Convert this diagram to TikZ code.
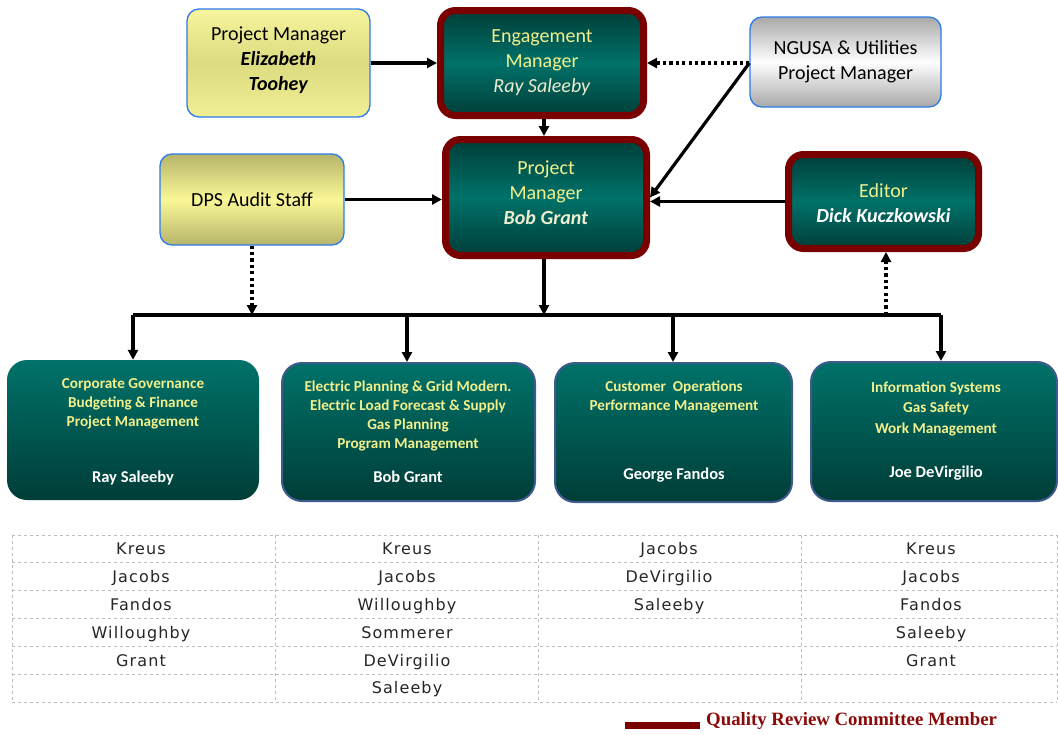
\documentclass[tikz,border=0pt]{standalone}
\usepackage{fontspec}
\setmainfont{Carlito}
\newfontfamily\tabfont[LetterSpace=7]{DejaVu Sans}
\newfontfamily\legfont{Liberation Serif}
\usetikzlibrary{arrows.meta}
\definecolor{qred}{HTML}{7A0000}
\definecolor{tealD}{HTML}{003D38}
\definecolor{tealL}{HTML}{007269}
\definecolor{ylt}{HTML}{F2F08C}
\definecolor{ylight}{HTML}{EDEDCF}
\definecolor{bord}{HTML}{2C7BEA}
\definecolor{navy}{HTML}{3F5A8C}
\definecolor{tabline}{HTML}{BDBDBD}
\definecolor{legred}{HTML}{8A0A0A}
\definecolor{yA}{HTML}{F7F59D}
\definecolor{yB}{HTML}{F1EF93}
\definecolor{yC}{HTML}{DDDB80}
\definecolor{yD}{HTML}{B7B56B}
\definecolor{yE}{HTML}{F9F796}
\definecolor{gA}{HTML}{A8A8A8}
\tikzset{
  yelbox/.style={draw=bord, line width=1.3pt, rounded corners=12pt, align=center,
    font=\fontsize{20}{25}\selectfont, text=black},
  qrbox/.style={draw=qred, line width=7pt, rounded corners=15pt, align=center,
    top color=tealD, bottom color=tealD, middle color=tealL,
    font=\fontsize{20}{25}\selectfont, text=ylt},
  deptbox/.style={rounded corners=20pt, top color=tealL, bottom color=tealD},
  deptbord/.style={deptbox, draw=navy, line width=2pt},
  head/.style={font=\bfseries\fontsize{15.2}{19}\selectfont, text=ylt, align=center},
  who/.style={font=\bfseries\fontsize{16.5}{19}\selectfont, text=white},
  arr/.style={-{Triangle[length=10pt,width=10pt]}, line width=3.2pt},
  dotarr/.style={arr, dash pattern=on 3.2pt off 3.2pt},
  ln/.style={line width=3.2pt},
  tab/.style={tabline, dashed, line width=0.7pt},
  cell/.style={font=\tabfont\fontsize{16}{18}\selectfont, text=black!85, anchor=base},
}
\begin{document}
\begin{tikzpicture}[x=1pt,y=-1pt]
\useasboundingbox (0,0) rectangle (1058,734);
% top row
\node[yelbox, minimum width=183, minimum height=108,
  top color=yA, bottom color=yB, middle color=yC] (pmE) at (278.5,63) {};
\node[align=center, font=\fontsize{20}{25}\selectfont] (pmEt) at (278.5,60)
  {Project Manager\\ \textbf{\textit{Elizabeth}}\\ \textbf{\textit{Toohey}}};
\node[qrbox, minimum width=203, minimum height=105] (eng) at (542,63) {};
\node[align=center, font=\fontsize{20}{25}\selectfont, text=ylt] (engt) at (542,63)
  {Engagement\\ Manager\\ \textcolor{ylight}{\textit{Ray Saleeby}}};
\node[yelbox, minimum width=191, minimum height=90,
  top color=gA, bottom color=gA, middle color=white] (ngusa) at (845.5,62)
  {NGUSA \& Utilities\\ Project Manager};
% second row
\node[yelbox, minimum width=184, minimum height=91,
  top color=yD, bottom color=yD, middle color=yE] (dps) at (252,199.5)
  {DPS Audit Staff};
\node[qrbox, minimum width=201, minimum height=116] (pmB) at (546,197.5) {};
\node[align=center, font=\fontsize{20}{25}\selectfont, text=ylt] (pmBt) at (546,193)
  {Project\\ Manager\\ \textcolor{ylight}{\textbf{\textit{Bob Grant}}}};
\node[qrbox, minimum width=190, minimum height=94] (ed) at (883.5,201.5) {};
\node[align=center, font=\fontsize{20}{25}\selectfont, text=ylt] (edt) at (883.5,203.5)
  {Editor\\ \textcolor{white}{\textbf{\textit{Dick Kuczkowski}}}};
% department boxes
\node[deptbox, minimum width=252, minimum height=140] (d1) at (133,430) {};
\node[deptbord, minimum width=253, minimum height=138] (d2) at (408.5,432) {};
\node[deptbord, minimum width=237, minimum height=139] (d3) at (673.5,432.5) {};
\node[deptbord, minimum width=246, minimum height=139] (d4) at (934,431.5) {};
\node[head] (h1) at (133,403.5) {Corporate Governance\\ Budgeting \& Finance\\ Project Management};
\node[who] (w1) at (133,478) {Ray Saleeby};
\node[head] (h2) at (408,415.5) {Electric Planning \& Grid Modern.\\ Electric Load Forecast \& Supply\\ Gas Planning\\ Program Management};
\node[who] (w2) at (408,477) {Bob Grant};
\node[head] (h3) at (674,397) {Customer~ Operations\\ Performance Management};
\node[who] (w3) at (674,475) {George Fandos};
\node[head, font=\bfseries\fontsize{15.2}{20.5}\selectfont] (h4) at (936,408.5) {Information Systems\\ Gas Safety\\ Work Management};
\node[who] (w4) at (936,473) {Joe DeVirgilio};
% connectors
\coordinate (bus) at (544,315);
\coordinate (busL) at (133,315);
\coordinate (busR) at (941,315);
\draw[arr] (pmE.east) -- (eng.west);
\draw[dotarr] (ngusa.west |- eng.east) -- (eng.east);
\draw[arr] (ngusa.west |- eng.east) -- (pmB.east);
\draw[arr] (eng.south -| bus) -- (pmB.north -| bus);
\draw[arr] (dps.east) -- (pmB.west |- dps.east);
\draw[arr] (ed.west) -- (pmB.east |- ed.west);
\draw[arr] (pmB.south -| bus) -- (bus);
\draw[ln] (busL) -- (busR);
\coordinate (b2) at (407,315);
\coordinate (b3) at (673,315);
\coordinate (b5) at (886,315);
\draw[arr] (busL) -- (d1.north -| busL);
\draw[arr] (b2) -- (d2.north -| b2);
\draw[arr] (b3) -- (d3.north -| b3);
\draw[arr] (busR) -- (d4.north -| busR);
\draw[dotarr] (dps.south) -- (dps.south |- bus);
\draw[dotarr] (b5) -- (ed.south -| b5);
% table
\foreach \y in {535,562,590,618,646,674,702} \draw[tab] (12,\y) -- (1057,\y);
\foreach \x in {12,275,538,801,1057} \draw[tab] (\x,535) -- (\x,702);
\foreach \t [count=\i] in {Kreus,Jacobs,Fandos,Willoughby,Grant}
  \node[cell] at (141,{526.5+27.9*\i}) {\t};
\foreach \t [count=\i] in {Kreus,Jacobs,Willoughby,Sommerer,DeVirgilio,Saleeby}
  \node[cell] at (407,{526.5+27.9*\i}) {\t};
\foreach \t [count=\i] in {Jacobs,DeVirgilio,Saleeby}
  \node[cell] at (669,{526.5+27.9*\i}) {\t};
\foreach \t [count=\i] in {Kreus,Jacobs,Fandos,Saleeby,Grant}
  \node[cell] at (931,{526.5+27.9*\i}) {\t};
% legend
\fill[qred] (625,722) rectangle (700,729);
\node[anchor=west, text=legred, font=\legfont\bfseries\fontsize{18.8}{20}\selectfont, inner sep=0pt] (leg) at (706,721) {Quality Review Committee Member};
\end{tikzpicture}
\end{document}
